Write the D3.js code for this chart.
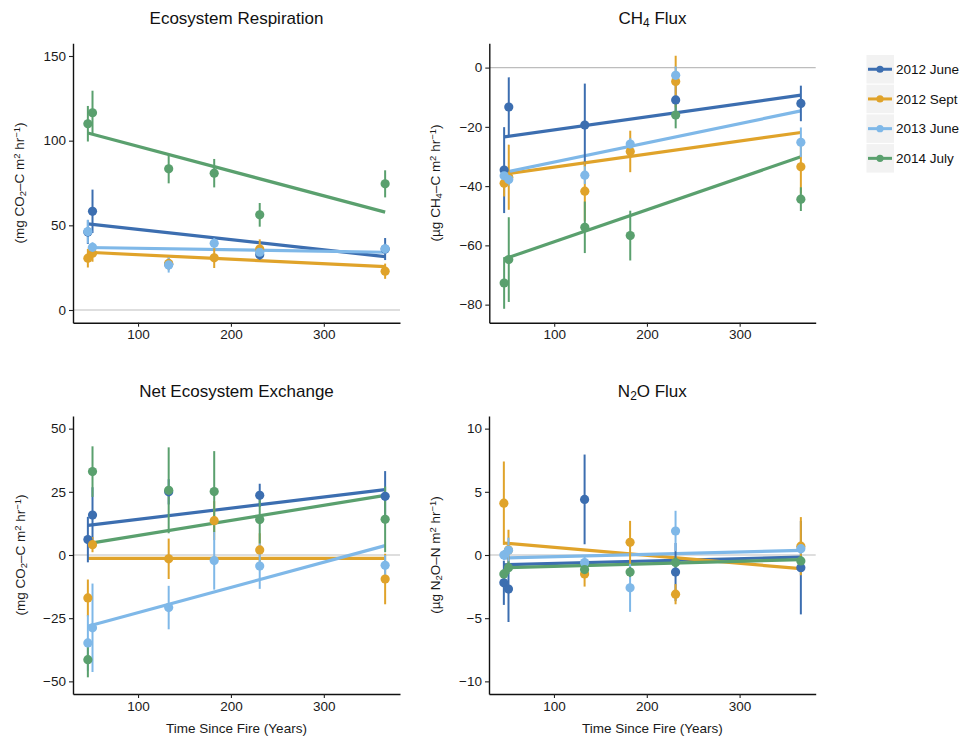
<!DOCTYPE html>
<html><head><meta charset="utf-8">
<script src="https://cdn.jsdelivr.net/npm/d3@7/dist/d3.min.js"></script>
<style>
body{margin:0;background:#fff;}
text{font-family:"Liberation Sans",Arial,Helvetica,sans-serif;}
</style></head>
<body>
<svg id="chart" width="962" height="740"></svg>
<script>
// ---------- DATA ----------
const years = [46, 51, 133, 182, 231, 366];
const fitYears = [46, 366];
const seriesNames = ["2012 June", "2012 Sept", "2013 June", "2014 July"];
const seriesColors = ["#3c6eb0", "#e0a32a", "#7fb8e8", "#5aa06e"];
const xTicks = [100, 200, 300];

// Ecosystem Respiration (rows = series)
const erMeans = [
  [46, 58.3, 27, null, 32.7, 36],
  [30.6, 33.5, 27.5, 30.8, 36, 22.9],
  [46.3, 37, 26.6, 39.4, 34.1, 36.1],
  [110, 116.5, 83.4, 80.8, 56.2, 74.5]
];
const erErrs = [
  [7, 12.8, 3, 0, 3, 6.5],
  [5.5, 5, 4, 6, 5.7, 4.5],
  [7, 3, 4.5, 3, 3, 3],
  [10.5, 13, 8.6, 8.4, 7, 8]
];
const erFits = [[50.9, 31.5], [34.1, 25.6], [36.9, 34.1], [104.5, 57.8]];
const erTicks = [0, 50, 100, 150];

// CH4 Flux
const chMeans = [
  [-34.6, -13.3, -19.4, null, -10.9, -12.1],
  [-39, -37, -41.7, -28.3, -4.7, -33.5],
  [-36.5, -37.8, -36.3, -25.8, -2.6, -25.2],
  [-72.7, -64.8, -53.9, -56.7, -16, -44.4]
];
const chErrs = [
  [14.5, 10, 14, 0, 6.5, 6],
  [4.5, 11, 10, 7, 8.7, 9],
  [2, 2, 3, 2, 3, 5],
  [8.7, 14.3, 8.7, 8.4, 4.5, 4]
];
const chFits = [[-23.4, -9.3], [-36, -21.9], [-35.4, -14.6], [-64.6, -30.1]];
const chTicks = [-80, -60, -40, -20, 0];

// Net Ecosystem Exchange
const neMeans = [
  [6.1, 15.8, 25, null, 23.6, 23.2],
  [-17, 4.1, -1.5, 13.6, 2, -9.5],
  [-34.8, -28.8, -20.8, -2.2, -4.4, -4.1],
  [-41.4, 33, 25.6, 25.1, 14, 14.1]
];
const neErrs = [
  [9, 11, 5, 0, 4.6, 10],
  [7.3, 3, 8, 7.7, 6.6, 10],
  [11, 17.5, 8.6, 11.5, 9, 4],
  [7, 10, 17, 16, 9.4, 13]
];
const neFits = [[11.7, 25.9], [-1.3, -1.3], [-28.2, 3.7], [4.5, 23.6]];
const neTicks = [-50, -25, 0, 25, 50];

// N2O Flux
const noMeans = [
  [-2.2, -2.7, 4.4, null, -1.35, -1.0],
  [4.1, 0.4, -1.5, 1.0, -3.1, 0.7],
  [0, 0.37, -0.6, -2.6, 1.9, 0.5],
  [-1.5, -1.0, -1.15, -1.35, -0.6, -0.47]
];
const noErrs = [
  [1.75, 2.6, 3.55, 0, 2.3, 3.7],
  [3.3, 1.6, 1, 1.7, 0.8, 2.3],
  [0.4, 1, 0.6, 1.9, 1.6, 0.4],
  [0.4, 0.5, 0.5, 0.4, 0.4, 0.4]
];
const noFits = [[-0.77, -0.16], [0.95, -1.08], [-0.24, 0.37], [-1.0, -0.37]];
const noTicks = [-10, -5, 0, 5, 10];

// ---------- LAYOUT ----------
const svg = d3.select("#chart");
const fmt = v => (v < 0 ? "\u2212" + Math.abs(v) : String(v));

const panels = [
  {title: [["Ecosystem Respiration", null]],
   ylab: [["(mg CO", null], ["2", "sub"], ["\u2013C m", null], ["2", "sup"], [" hr", null], ["\u22121", "sup"], [")", null]],
   means: erMeans, errs: erErrs, fits: erFits, ticks: erTicks, yDom: [-7.5, 157.5],
   box: {l: 73, r: 400, t: 43.3, b: 322.7}, ylabX: 19, xlab: false},
  {title: [["CH", null], ["4", "sub"], [" Flux", null]],
   ylab: [["(\u00b5g CH", null], ["4", "sub"], ["\u2013C m", null], ["2", "sup"], [" hr", null], ["\u22121", "sup"], [")", null]],
   means: chMeans, errs: chErrs, fits: chFits, ticks: chTicks, yDom: [-86.1, 8.2],
   box: {l: 489.3, r: 815.7, t: 43.3, b: 322.7}, ylabX: 435, xlab: false},
  {title: [["Net Ecosystem Exchange", null]],
   ylab: [["(mg CO", null], ["2", "sub"], ["\u2013C m", null], ["2", "sup"], [" hr", null], ["\u22121", "sup"], [")", null]],
   means: neMeans, errs: neErrs, fits: neFits, ticks: neTicks, yDom: [-55, 55],
   box: {l: 73, r: 400, t: 416, b: 694}, ylabX: 20, xlab: true},
  {title: [["N", null], ["2", "sub"], ["O Flux", null]],
   ylab: [["(\u00b5g N", null], ["2", "sub"], ["O\u2013N m", null], ["2", "sup"], [" hr", null], ["\u22121", "sup"], [")", null]],
   means: noMeans, errs: noErrs, fits: noFits, ticks: noTicks, yDom: [-11, 11],
   box: {l: 489, r: 815.7, t: 416, b: 694}, ylabX: 435, xlab: true}
];

function richText(sel, parts, size) {
  parts.forEach(([t, kind]) => {
    const ts = sel.append("tspan").text(t);
    if (kind === "sub") ts.attr("font-size", size * 0.7).attr("baseline-shift", "-25%");
    else if (kind === "sup") ts.attr("font-size", size * 0.7).attr("baseline-shift", "40%");
  });
}

panels.forEach(p => {
  const B = p.box;
  const x = d3.scaleLinear().domain([30, 382]).range([B.l, B.r]);
  const y = d3.scaleLinear().domain(p.yDom).range([B.b, B.t]);
  const g = svg.append("g");

  // zero reference line
  g.append("line").attr("x1", B.l).attr("x2", B.r).attr("y1", y(0)).attr("y2", y(0))
    .attr("stroke", "#bdbdbd").attr("stroke-width", 1.1);

  // axes
  const ax = g.append("g").attr("transform", `translate(0,${B.b})`)
    .call(d3.axisBottom(x).tickValues(xTicks).tickSize(4).tickSizeOuter(0).tickPadding(3));
  const ay = g.append("g").attr("transform", `translate(${B.l},0)`)
    .call(d3.axisLeft(y).tickValues(p.ticks).tickFormat(fmt).tickSize(4).tickSizeOuter(0).tickPadding(3));
  [ax, ay].forEach(a => {
    a.select(".domain").attr("stroke", "#111").attr("stroke-width", 1.4);
    a.selectAll(".tick line").attr("stroke", "#222").attr("stroke-width", 1.1);
    a.selectAll(".tick text").attr("font-size", 13.5).attr("fill", "#1a1a1a")
      .attr("font-family", "Liberation Sans, Arial, sans-serif");
  });

  // fit lines
  p.fits.forEach((f, si) => {
    g.append("line")
      .attr("x1", x(fitYears[0])).attr("x2", x(fitYears[1]))
      .attr("y1", y(f[0])).attr("y2", y(f[1]))
      .attr("stroke", seriesColors[si]).attr("stroke-width", 3.2).attr("stroke-linecap", "butt");
  });

  // error bars and points
  p.means.forEach((row, si) => {
    row.forEach((v, i) => {
      if (v === null) return;
      const e = p.errs[si][i];
      g.append("line").attr("x1", x(years[i])).attr("x2", x(years[i]))
        .attr("y1", y(v - e)).attr("y2", y(v + e))
        .attr("stroke", seriesColors[si]).attr("stroke-width", 2);
    });
  });
  p.means.forEach((row, si) => {
    row.forEach((v, i) => {
      if (v === null) return;
      g.append("circle").attr("cx", x(years[i])).attr("cy", y(v)).attr("r", 4.6)
        .attr("fill", seriesColors[si]);
    });
  });

  // title
  const tt = g.append("text").attr("x", (B.l + B.r) / 2).attr("y", B.t - 19.5)
    .attr("text-anchor", "middle").attr("font-size", 17).attr("fill", "#111");
  richText(tt, p.title, 17);

  // y label
  const yl = g.append("text")
    .attr("transform", `translate(${p.ylabX + 5},${(B.t + B.b) / 2}) rotate(-90)`)
    .attr("text-anchor", "middle").attr("font-size", 13.5).attr("fill", "#1a1a1a");
  richText(yl, p.ylab, 13.5);

  if (p.xlab) {
    g.append("text").attr("x", (B.l + B.r) / 2).attr("y", 733)
      .attr("text-anchor", "middle").attr("font-size", 13.5).attr("fill", "#1a1a1a")
      .text("Time Since Fire (Years)");
  }
});

// ---------- LEGEND ----------
const lg = svg.append("g");
seriesNames.forEach((name, i) => {
  const top = 55 + i * 29.7;
  lg.append("rect").attr("x", 866.5).attr("y", top).attr("width", 27.5).attr("height", 28.5)
    .attr("fill", "#f2f2f2");
  lg.append("line").attr("x1", 868).attr("x2", 892).attr("y1", top + 14.25).attr("y2", top + 14.25)
    .attr("stroke", seriesColors[i]).attr("stroke-width", 3);
  lg.append("circle").attr("cx", 880).attr("cy", top + 14.25).attr("r", 3.6).attr("fill", seriesColors[i]);
  lg.append("text").attr("x", 896).attr("y", top + 19).attr("font-size", 13.5).attr("fill", "#111").text(name);
});
</script>
</body></html>
